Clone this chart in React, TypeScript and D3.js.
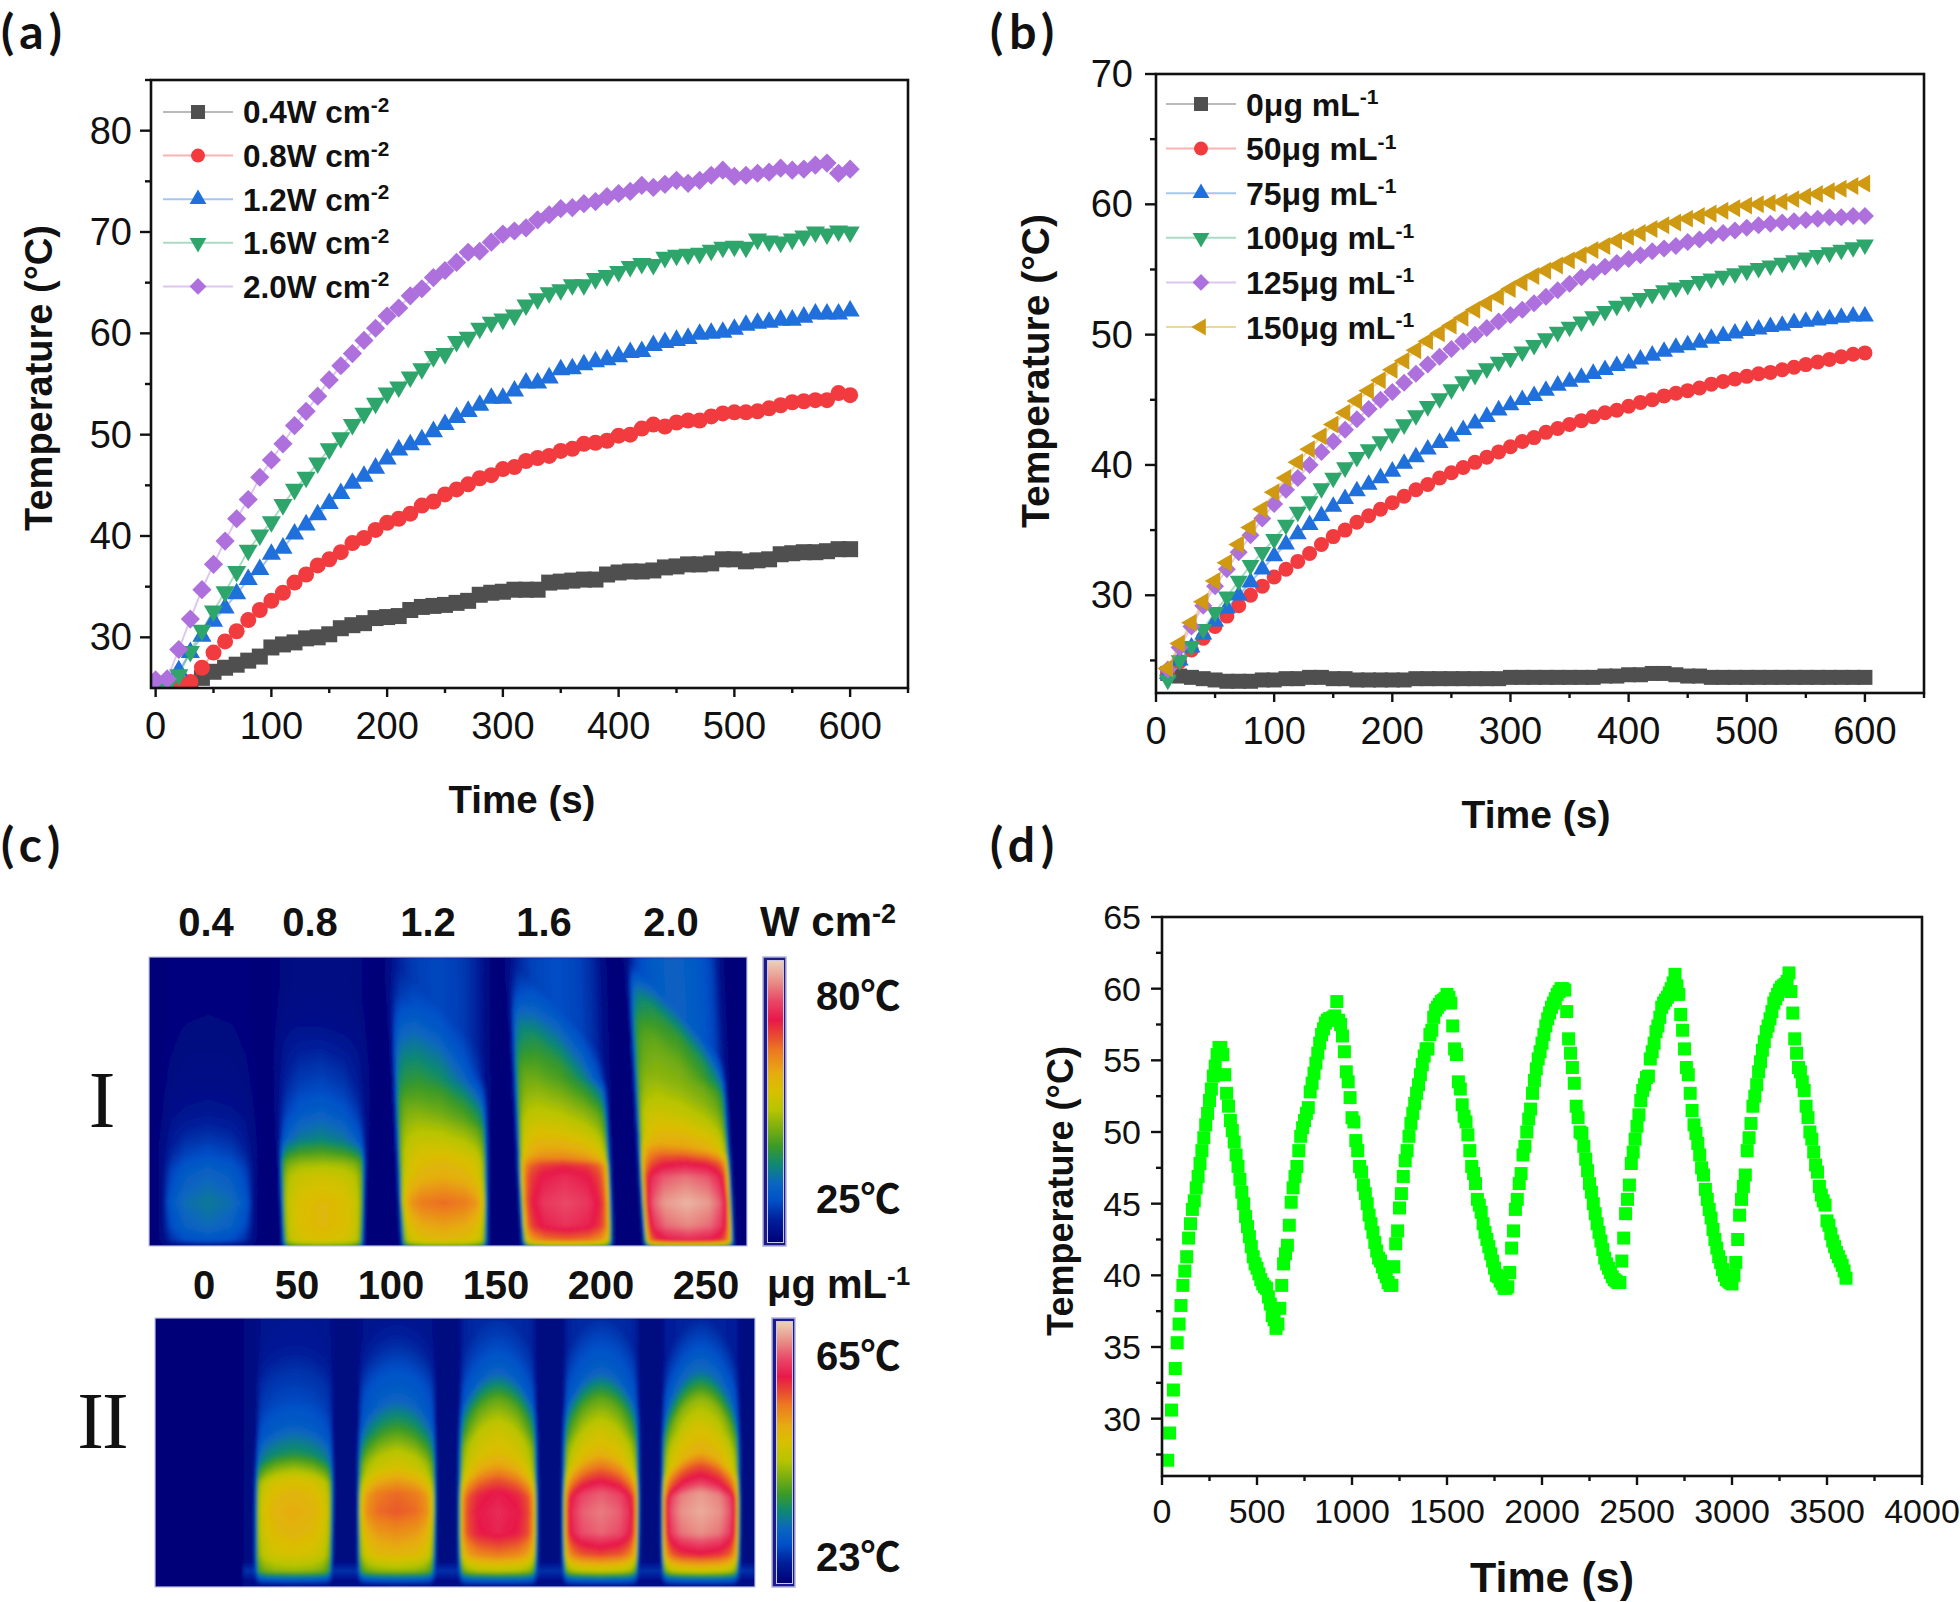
import * as d3 from "d3";
import { useMemo } from "react";

const sansFont = "'Liberation Sans', Arial, sans-serif";
const labelFont = "Lato, 'Open Sans', sans-serif";

// panel (a): temperature every 10 s from 0 to 600 s
const powerTime = d3.range(0, 610, 10);
const power04 = [
  23.8, 24.2, 24.7, 25.3, 26.0, 26.6, 27.0, 27.3, 27.7, 28.1,
  29.0, 29.3, 29.5, 29.9, 30.0, 30.3, 30.9, 31.2, 31.4, 31.9,
  32.0, 32.1, 32.7, 33.0, 33.1, 33.2, 33.4, 33.6, 34.2, 34.4,
  34.5, 34.7, 34.7, 34.7, 35.4, 35.5, 35.6, 35.7, 35.7, 36.2,
  36.4, 36.5, 36.5, 36.6, 36.9, 37.0, 37.2, 37.2, 37.3, 37.7,
  37.7, 37.5, 37.6, 37.7, 38.2, 38.3, 38.4, 38.4, 38.5, 38.7,
  38.7
];
const power08 = [
  24.2, 24.6, 25.2, 25.6, 27.0, 28.5, 29.6, 30.6, 31.7, 32.7,
  33.6, 34.4, 35.4, 36.2, 37.1, 37.7, 38.4, 39.3, 39.8, 40.6,
  41.3, 41.7, 42.2, 43.0, 43.4, 44.1, 44.6, 45.1, 45.7, 46.0,
  46.6, 46.8, 47.4, 47.7, 47.9, 48.4, 48.6, 49.1, 49.2, 49.4,
  49.9, 50.0, 50.6, 51.0, 50.8, 51.2, 51.4, 51.4, 51.8, 52.1,
  52.2, 52.2, 52.3, 52.6, 52.9, 53.2, 53.3, 53.4, 53.4, 54.1,
  53.9
];
const power12 = [
  24.8, 25.2, 26.7, 28.5, 30.1, 31.6, 32.9, 34.3, 35.7, 36.7,
  38.2, 38.8, 40.2, 41.1, 42.1, 43.2, 44.2, 45.2, 45.9, 46.7,
  47.6, 48.5, 49.0, 49.5, 50.3, 51.0, 51.7, 52.3, 52.9, 53.6,
  53.6, 54.3, 55.1, 55.1, 55.6, 56.4, 56.5, 56.9, 57.2, 57.4,
  57.7, 58.1, 58.2, 58.8, 59.1, 59.3, 59.5, 59.9, 60.0, 60.1,
  60.4, 60.8, 61.0, 61.1, 61.3, 61.3, 61.6, 61.9, 61.9, 61.9,
  62.2
];
const power16 = [
  24.8, 25.2, 26.3, 28.6, 30.7, 32.6, 34.5, 36.5, 38.6, 40.1,
  41.4, 43.1, 44.6, 45.8, 47.2, 48.6, 49.7, 51.0, 52.1, 53.1,
  54.1, 54.7, 55.7, 56.5, 57.7, 58.0, 59.2, 59.6, 60.5, 61.1,
  61.4, 61.8, 62.8, 63.4, 64.0, 64.3, 64.8, 64.8, 65.4, 65.7,
  66.1, 66.6, 66.9, 66.8, 67.5, 67.7, 67.8, 67.9, 68.2, 68.5,
  68.6, 68.5, 69.3, 69.1, 69.0, 69.3, 69.6, 70.0, 69.8, 70.1,
  70.0
];
const power20 = [
  25.8, 25.9, 28.8, 31.8, 34.7, 37.2, 39.5, 41.7, 43.6, 45.8,
  47.5, 49.1, 50.9, 52.3, 53.8, 55.4, 56.8, 58.0, 59.3, 60.5,
  61.7, 62.5, 63.7, 64.4, 65.5, 66.2, 67.0, 68.0, 68.1, 69.0,
  69.8, 70.1, 70.4, 71.2, 71.7, 72.3, 72.4, 72.8, 73.0, 73.5,
  73.8, 74.0, 74.6, 74.4, 74.7, 75.1, 74.8, 75.1, 75.6, 76.1,
  75.5, 75.6, 75.8, 75.9, 76.3, 76.1, 76.2, 76.6, 76.8, 75.8,
  76.2
];

// panel (b): temperature every 10 s from 10 to 600 s
const doseTime = d3.range(10, 610, 10);
const dose0 = [
  24.0, 23.8, 23.7, 23.6, 23.5, 23.4, 23.4, 23.4, 23.5, 23.5,
  23.6, 23.6, 23.7, 23.7, 23.6, 23.6, 23.5, 23.5, 23.5, 23.5,
  23.5, 23.6, 23.6, 23.6, 23.6, 23.6, 23.6, 23.6, 23.6, 23.7,
  23.7, 23.7, 23.7, 23.7, 23.7, 23.7, 23.7, 23.8, 23.8, 23.9,
  23.9, 24.0, 24.0, 23.9, 23.8, 23.8, 23.7, 23.7, 23.7, 23.7,
  23.7, 23.7, 23.7, 23.7, 23.7, 23.7, 23.7, 23.7, 23.7, 23.7
];
const dose50 = [
  23.9, 24.9, 25.8, 26.7, 27.6, 28.4, 29.2, 30.0, 30.7, 31.4,
  32.0, 32.6, 33.2, 33.9, 34.5, 35.0, 35.6, 36.1, 36.6, 37.1,
  37.6, 38.1, 38.5, 39.0, 39.4, 39.8, 40.2, 40.6, 41.0, 41.4,
  41.8, 42.1, 42.5, 42.8, 43.1, 43.4, 43.7, 44.0, 44.2, 44.5,
  44.8, 45.0, 45.3, 45.5, 45.7, 45.9, 46.2, 46.4, 46.6, 46.8,
  47.0, 47.1, 47.3, 47.5, 47.7, 47.9, 48.1, 48.3, 48.5, 48.6
];
const dose75 = [
  24.0, 25.0, 26.0, 27.0, 28.0, 29.0, 30.0, 31.0, 32.0, 33.0,
  33.9, 34.7, 35.4, 36.1, 36.8, 37.4, 38.0, 38.5, 39.0, 39.5,
  40.1, 40.6, 41.2, 41.7, 42.2, 42.7, 43.2, 43.7, 44.2, 44.6,
  45.0, 45.3, 45.7, 46.1, 46.4, 46.7, 47.0, 47.3, 47.6, 47.8,
  48.1, 48.4, 48.7, 49.0, 49.2, 49.4, 49.7, 49.9, 50.1, 50.3,
  50.4, 50.6, 50.7, 50.9, 51.0, 51.1, 51.2, 51.3, 51.4, 51.4
];
const dose100 = [
  23.5, 25.0, 26.1, 27.4, 28.7, 29.9, 31.1, 32.3, 33.3, 34.3,
  35.4, 36.4, 37.2, 38.2, 39.0, 39.8, 40.6, 41.2, 41.8, 42.4,
  43.1, 43.8, 44.5, 45.1, 45.8, 46.4, 46.9, 47.4, 47.9, 48.2,
  48.7, 49.2, 49.7, 50.2, 50.6, 51.0, 51.4, 51.8, 52.2, 52.5,
  52.8, 53.1, 53.4, 53.6, 53.8, 54.1, 54.3, 54.5, 54.7, 54.9,
  55.1, 55.3, 55.5, 55.7, 55.9, 56.1, 56.3, 56.5, 56.7, 56.9
];
const dose125 = [
  24.3, 26.0, 27.6, 29.2, 30.7, 32.0, 33.3, 34.6, 35.9, 37.0,
  38.1, 39.0, 40.0, 41.0, 41.8, 42.7, 43.5, 44.3, 45.0, 45.6,
  46.3, 47.0, 47.7, 48.3, 48.9, 49.5, 50.0, 50.5, 51.0, 51.5,
  51.9, 52.4, 52.9, 53.4, 53.9, 54.4, 54.8, 55.2, 55.5, 55.8,
  56.1, 56.4, 56.6, 56.8, 57.1, 57.3, 57.6, 57.8, 58.0, 58.2,
  58.4, 58.5, 58.6, 58.7, 58.8, 58.9, 59.0, 59.0, 59.1, 59.1
];
const dose150 = [
  24.4, 26.3, 27.9, 29.5, 31.1, 32.5, 33.9, 35.2, 36.6, 37.9,
  39.0, 40.2, 41.2, 42.2, 43.1, 44.0, 44.9, 45.7, 46.5, 47.3,
  48.0, 48.8, 49.5, 50.1, 50.7, 51.3, 51.9, 52.4, 52.9, 53.5,
  54.0, 54.5, 54.9, 55.3, 55.7, 56.1, 56.5, 56.8, 57.2, 57.5,
  57.8, 58.1, 58.4, 58.6, 58.9, 59.1, 59.3, 59.5, 59.7, 59.9,
  60.0, 60.1, 60.2, 60.4, 60.6, 60.8, 61.0, 61.2, 61.4, 61.6
];

// panel (d): six heating and cooling cycles, one reading every 10 s from 30 s
const cycleTemp = [
  27.1, 29.0, 30.6, 32.0, 33.5, 35.3, 36.6, 37.9, 39.3, 40.3, 41.3, 42.6, 43.6, 44.6,
  45.2, 46.1, 46.9, 47.8, 48.7, 49.6, 50.5, 51.3, 52.2, 53.0, 53.9, 54.6, 55.4, 55.9,
  55.9, 55.4, 54.0, 52.7, 51.8, 50.8, 50.1, 49.3, 48.4, 47.6, 46.7, 45.8, 45.0, 44.1, 43.4,
  42.7, 42.0, 41.3, 40.8, 40.5, 40.1, 39.7, 39.4, 39.2, 39.1, 38.5, 38.0, 37.2, 36.9, 36.3,
  36.6, 37.7, 39.3, 40.8, 41.5, 42.1, 43.5, 45.1, 46.1, 46.9, 47.6, 48.7, 49.7, 50.3, 50.8, 51.3,
  51.7, 52.8, 53.4, 54.1, 54.8, 55.5, 56.2, 56.8, 57.2, 57.6, 57.8, 57.9, 57.9, 58.0, 58.1, 59.1,
  57.8, 57.5, 56.7, 55.6, 54.2, 53.5, 52.4, 51.0, 50.7, 49.4, 48.7, 47.6, 47.2, 46.3, 45.7,
  45.0, 44.2, 43.6, 43.0, 42.3, 41.7, 41.2, 41.0, 40.6, 40.2, 39.9, 39.5, 39.3, 39.3,
  40.6, 42.2, 43.1, 44.7, 45.7, 46.9, 48.0, 48.7, 49.7, 50.6, 51.3, 52.0, 52.7, 53.3, 54.0,
  54.7, 55.3, 55.8, 55.8, 56.8, 57.1, 58.0, 58.5, 58.7, 58.9, 59.1, 59.2, 59.3, 59.6, 59.4, 59.0,
  57.4, 55.8, 55.4, 53.5, 53.0, 51.9, 51.1, 50.7, 49.8, 48.7, 47.6, 47.1, 46.4, 45.3, 44.9,
  44.4, 43.6, 43.0, 42.5, 42.0, 41.5, 41.0, 40.5, 40.0, 39.9, 39.6, 39.4, 39.1, 39.1, 39.2,
  40.2, 41.9, 43.1, 44.6, 45.3, 46.4, 47.1, 48.4, 49.0, 50.0, 50.9, 51.6, 52.7, 53.6, 54.4,
  55.1, 55.6, 56.2, 56.8, 57.4, 57.9, 58.3, 58.7, 59.0, 59.3, 59.6, 59.8, 60.0, 60.0, 59.9,
  58.4, 56.5, 55.5, 54.5, 53.4, 51.8, 51.0, 50.0, 49.9, 49.0, 48.1, 47.3, 46.4, 45.8, 45.0,
  44.3, 43.6, 43.0, 42.4, 41.8, 41.2, 40.8, 40.5, 40.2, 39.9, 39.7, 39.6, 39.5, 39.5,
  41.0, 42.6, 44.3, 45.3, 46.3, 47.8, 48.6, 49.5, 50.4, 51.2, 52.2, 52.9, 53.3, 53.8, 53.9,
  55.1, 55.6, 56.2, 57.0, 57.4, 58.0, 58.7, 59.0, 59.2, 59.4, 59.7, 60.0, 60.4, 61.0, 60.2, 59.6,
  58.2, 57.1, 55.8, 54.5, 54.0, 52.7, 51.5, 50.5, 49.9, 49.2, 48.4, 47.5, 47.0, 46.0, 45.3,
  44.6, 44.0, 43.2, 42.5, 41.9, 41.3, 40.9, 40.4, 40.0, 39.7, 39.6, 39.5, 39.4,
  40.0, 40.9, 42.5, 44.2, 45.3, 46.2, 47.0, 48.7, 49.6, 50.6, 51.8, 52.5, 53.3, 54.2, 54.9,
  55.7, 56.3, 57.0, 57.4, 57.9, 58.4, 59.0, 59.3, 59.6, 59.9, 60.1, 60.2, 60.3, 60.5, 61.1,
  59.8, 58.3, 56.5, 55.5, 54.5, 54.2, 53.5, 52.9, 51.8, 51.0, 50.0, 49.5, 48.6, 47.7, 47.2,
  46.2, 45.6, 45.2, 44.9, 43.8, 43.5, 42.9, 42.4, 42.0, 41.6, 41.3, 41.0, 40.7, 40.3, 39.8
];
const cycleTime = cycleTemp.map((_, i) => 30 + i * 10);

const powerLabels = ["0.4W cm", "0.8W cm", "1.2W cm", "1.6W cm", "2.0W cm"];
const doseLabels = ["0μg mL", "50μg mL", "75μg mL", "100μg mL", "125μg mL", "150μg mL"];
const seriesColors = ["#4f4f4f", "#f23b3f", "#1f6fdc", "#2ea56b", "#ad70dd", "#cf9a12"];
const seriesMarks = ["square", "circle", "up", "down", "diamond", "left"];

const heatStops = [0.0, 0.08, 0.15, 0.21, 0.28, 0.34, 0.41, 0.47, 0.54, 0.6, 0.68, 0.73, 0.79, 0.86, 0.92, 1.0];
const heatColors = [
  "#000078", "#001f9a", "#0050c8", "#0a66c0", "#108a70", "#3a9a28", "#7fb010", "#b8c400",
  "#d8c000", "#e6ac10", "#ec7a20", "#e84c30", "#e8184a", "#e94a68", "#e88a84", "#ecd3b8"
];

// thermal image I: centre temperature of each tube (colour bar fraction) by height
const rowsOne = [0, 0.09, 0.2, 0.32, 0.44, 0.53, 0.62, 0.68, 0.725, 0.76, 0.85, 0.93, 0.98, 1];
const tubesOne = [
  [0.02, 0.02, 0.02, 0.025, 0.035, 0.06, 0.11, 0.15, 0.19, 0.21, 0.25, 0.22, 0.17, 0.05],
  [0.03, 0.03, 0.045, 0.1, 0.15, 0.2, 0.27, 0.38, 0.47, 0.52, 0.57, 0.57, 0.55, 0.4],
  [0.14, 0.18, 0.26, 0.34, 0.4, 0.46, 0.52, 0.56, 0.58, 0.6, 0.7, 0.62, 0.57, 0.4],
  [0.15, 0.22, 0.33, 0.4, 0.47, 0.53, 0.6, 0.66, 0.78, 0.82, 0.86, 0.83, 0.7, 0.4],
  [0.2, 0.33, 0.4, 0.44, 0.5, 0.56, 0.62, 0.74, 0.82, 0.9, 0.97, 0.92, 0.82, 0.4]
];
// left and right tube walls at the top and bottom of the image
const wallsOne = [
  [11, 108, 14, 104],
  [123, 221, 134, 214],
  [239, 338, 253, 338],
  [359, 454, 374, 463],
  [478, 571, 496, 584]
];
const leanOne = [0, 0.06, 0.34, 0.34, 0.36];
const domeOne = [0, 0, 0, 0, 0];

// thermal image II
const rowsTwo = [0, 0.1, 0.2, 0.3, 0.4, 0.5, 0.55, 0.6, 0.65, 0.72, 0.8, 0.88, 0.94, 0.97, 1];
const tubesTwo = [
  [0.06, 0.07, 0.11, 0.14, 0.19, 0.3, 0.42, 0.54, 0.58, 0.6, 0.58, 0.54, 0.44, 0.2, 0.02],
  [0.06, 0.1, 0.16, 0.2, 0.33, 0.48, 0.53, 0.62, 0.7, 0.72, 0.65, 0.58, 0.44, 0.2, 0.02],
  [0.1, 0.14, 0.2, 0.38, 0.5, 0.56, 0.62, 0.72, 0.8, 0.82, 0.81, 0.68, 0.48, 0.22, 0.03],
  [0.1, 0.15, 0.2, 0.38, 0.5, 0.58, 0.68, 0.78, 0.88, 0.91, 0.89, 0.74, 0.5, 0.22, 0.03],
  [0.09, 0.15, 0.23, 0.43, 0.53, 0.6, 0.73, 0.82, 0.94, 0.96, 0.93, 0.78, 0.52, 0.22, 0.03]
];
const wallsTwo = [
  [101, 180, 100, 177],
  [203, 282, 203, 280],
  [304, 382, 304, 382],
  [408, 485, 408, 483],
  [507, 585, 507, 584]
];
const leanTwo = [0, 0, 0, 0, 0];
const domeTwo = [0.06, 0.1, 0.14, 0.14, 0.18];

const sharpEdge = { at: [0, 0.5, 0.75, 0.88, 0.95, 1, 1.08], level: [1, 0.97, 0.91, 0.82, 0.58, 0.15, 0] };
const softEdge = { at: [0, 0.5, 0.8, 1, 1.15], level: [1, 0.85, 0.55, 0.12, 0] };

const heatColor = d3.scaleLinear<string>().domain(heatStops).range(heatColors).clamp(true);

function clamp01(value: number): number {
  return Math.max(0, Math.min(1, value));
}

function buildField(
  width: number,
  height: number,
  cell: number,
  rows: number[],
  tubes: number[][],
  walls: number[][],
  lean: number[],
  dome: number[],
  softFrom: number,
  floorFrom: number
): { values: number[]; nx: number; ny: number } {
  const nx = Math.ceil(width / cell);
  const ny = Math.ceil(height / cell);
  const profiles = tubes.map((tube) => d3.scaleLinear().domain(rows).range(tube).clamp(true));
  const sharp = d3.scaleLinear().domain(sharpEdge.at).range(sharpEdge.level).clamp(true);
  const soft = d3.scaleLinear().domain(softEdge.at).range(softEdge.level).clamp(true);
  const floor = d3.scaleLinear().domain([0.9, 0.93, 0.95, 0.98]).range([0.02, 0.1, 0.1, 0.03]).clamp(true);
  const values: number[] = [];
  for (let j = 0; j < ny; j++) {
    const f = ((j + 0.5) * cell) / height;
    for (let i = 0; i < nx; i++) {
      const x = (i + 0.5) * cell;
      let v = 0.012;
      if (floorFrom >= 0 && x > floorFrom) v = Math.max(v, floor(f));
      tubes.forEach((_, k) => {
        const [tl, tr, bl, br] = walls[k];
        const left = tl + (bl - tl) * f;
        const right = tr + (br - tr) * f;
        const u = (x - (left + right) / 2) / ((right - left) / 2);
        if (Math.abs(u) > 1.2) return;
        const fade = clamp01((0.72 - f) / 0.3);
        const shift = (lean[k] * (u + 1) * 0.5 + dome[k] * u * u) * fade;
        const p = profiles[k](f - shift);
        const mix = clamp01((p - softFrom) / 0.3);
        const au = Math.abs(u);
        const w = sharp(au) * mix + soft(au) * (1 - mix);
        v = Math.max(v, 0.012 + (p - 0.012) * w);
      });
      values.push(v);
    }
  }
  return { values, nx, ny };
}

function Tick({ x1, y1, x2, y2 }: { x1: number; y1: number; x2: number; y2: number }) {
  return <line x1={x1} y1={y1} x2={x2} y2={y2} stroke="#111" strokeWidth={2.4} />;
}

function Mark({ kind, x, y, size, color }: { kind: string; x: number; y: number; size: number; color: string }) {
  const area = size * size;
  let type: d3.SymbolType = d3.symbolSquare;
  let rotate = 0;
  let symbolSize = area;
  if (kind === "circle") {
    type = d3.symbolCircle;
    symbolSize = (Math.PI * area) / 4;
  } else if (kind === "diamond") {
    rotate = 45;
    symbolSize = area * 0.72;
  } else if (kind === "up" || kind === "down" || kind === "left") {
    type = d3.symbolTriangle;
    symbolSize = area * 0.62;
    rotate = kind === "down" ? 180 : kind === "left" ? -90 : 0;
  }
  const d = d3.symbol().type(type).size(symbolSize)() ?? "";
  return <path d={d} fill={color} transform={`translate(${x},${y}) rotate(${rotate})`} />;
}

interface Frame {
  left: number;
  right: number;
  top: number;
  bottom: number;
}

function Axes({
  frame,
  xScale,
  yScale,
  xMajor,
  xMinor,
  yMajor,
  yMinor,
  tickSize,
  yLabelX,
  xLabelY,
  yTitleX,
  yTitleY,
  xTitleX,
  xTitleY,
  yTitleSize,
  xTitleSize
}: {
  frame: Frame;
  xScale: d3.ScaleLinear<number, number>;
  yScale: d3.ScaleLinear<number, number>;
  xMajor: number[];
  xMinor: number[];
  yMajor: number[];
  yMinor: number[];
  tickSize: number;
  yLabelX: number;
  xLabelY: number;
  yTitleX: number;
  yTitleY: number;
  xTitleX: number;
  xTitleY: number;
  yTitleSize: number;
  xTitleSize: number;
}) {
  return (
    <g fontFamily={sansFont} fill="#111">
      <rect
        x={frame.left}
        y={frame.top}
        width={frame.right - frame.left}
        height={frame.bottom - frame.top}
        fill="none"
        stroke="#111"
        strokeWidth={2.6}
      />
      {xMajor.map((t) => (
        <g key={`xm${t}`}>
          <Tick x1={xScale(t)} x2={xScale(t)} y1={frame.bottom} y2={frame.bottom + 9} />
          <text x={xScale(t)} y={xLabelY} textAnchor="middle" dominantBaseline="central" fontSize={tickSize}>
            {t}
          </text>
        </g>
      ))}
      {xMinor.map((t) => (
        <Tick key={`xn${t}`} x1={xScale(t)} x2={xScale(t)} y1={frame.bottom} y2={frame.bottom + 5} />
      ))}
      {yMajor.map((t) => (
        <g key={`ym${t}`}>
          <Tick x1={frame.left - 11} x2={frame.left} y1={yScale(t)} y2={yScale(t)} />
          <text x={yLabelX} y={yScale(t)} textAnchor="end" dominantBaseline="central" fontSize={tickSize}>
            {t}
          </text>
        </g>
      ))}
      {yMinor.map((t) => (
        <Tick key={`yn${t}`} x1={frame.left - 6} x2={frame.left} y1={yScale(t)} y2={yScale(t)} />
      ))}
      <text
        transform={`translate(${yTitleX},${yTitleY}) rotate(-90)`}
        textAnchor="middle"
        dominantBaseline="central"
        fontSize={yTitleSize}
        fontWeight={700}
      >
        Temperature (°C)
      </text>
      <text
        x={xTitleX}
        y={xTitleY}
        textAnchor="middle"
        dominantBaseline="central"
        fontSize={xTitleSize}
        fontWeight={700}
      >
        Time (s)
      </text>
    </g>
  );
}

function LinePanel({
  id,
  frame,
  xDomain,
  yDomain,
  time,
  series,
  markSize
}: {
  id: string;
  frame: Frame;
  xDomain: [number, number];
  yDomain: [number, number];
  time: number[];
  series: number[][];
  markSize: number;
}) {
  const xScale = d3.scaleLinear().domain(xDomain).range([frame.left, frame.right]);
  const yScale = d3.scaleLinear().domain(yDomain).range([frame.bottom, frame.top]);
  const path = d3
    .line<number>()
    .x((_, i) => xScale(time[i]))
    .y((v) => yScale(v));
  return (
    <g>
      <clipPath id={`clip-${id}`}>
        <rect x={frame.left} y={frame.top} width={frame.right - frame.left} height={frame.bottom - frame.top} />
      </clipPath>
      <g clipPath={`url(#clip-${id})`}>
        {series.map((values, s) => (
          <g key={s}>
            <path d={path(values) ?? ""} fill="none" stroke={seriesColors[s]} strokeOpacity={0.4} strokeWidth={2} />
            {values.map((v, i) => (
              <Mark
                key={i}
                kind={seriesMarks[s]}
                x={xScale(time[i])}
                y={yScale(v)}
                size={markSize}
                color={seriesColors[s]}
              />
            ))}
          </g>
        ))}
      </g>
    </g>
  );
}

function Legend({
  labels,
  exponent,
  lineLeft,
  lineRight,
  textX,
  rowY,
  rowGap,
  fontSize,
  markSize
}: {
  labels: string[];
  exponent: string;
  lineLeft: number;
  lineRight: number;
  textX: number;
  rowY: number;
  rowGap: number;
  fontSize: number;
  markSize: number;
}) {
  return (
    <g fontFamily={sansFont} fontWeight={700} fill="#111">
      {labels.map((label, i) => {
        const y = rowY + i * rowGap;
        return (
          <g key={label}>
            <line x1={lineLeft} x2={lineRight} y1={y} y2={y} stroke={seriesColors[i]} strokeOpacity={0.4} strokeWidth={2} />
            <Mark kind={seriesMarks[i]} x={(lineLeft + lineRight) / 2} y={y} size={markSize} color={seriesColors[i]} />
            <text x={textX} y={y + fontSize * 0.36} fontSize={fontSize}>
              {label}
              <tspan dy={-fontSize * 0.36} fontSize={fontSize * 0.66}>
                {exponent}
              </tspan>
            </text>
          </g>
        );
      })}
    </g>
  );
}

function HeatImage({
  id,
  x,
  y,
  width,
  height,
  rows,
  tubes,
  walls,
  lean,
  dome,
  softFrom,
  floorFrom
}: {
  id: string;
  x: number;
  y: number;
  width: number;
  height: number;
  rows: number[];
  tubes: number[][];
  walls: number[][];
  lean: number[];
  dome: number[];
  softFrom: number;
  floorFrom: number;
}) {
  const cell = 2;
  const shapes = useMemo(() => {
    const { values, nx, ny } = buildField(width, height, cell, rows, tubes, walls, lean, dome, softFrom, floorFrom);
    const thresholds = d3.range(0.015, 1, 0.005);
    const contours = d3.contours().size([nx, ny]).thresholds(thresholds)(values);
    const geo = d3.geoPath(d3.geoIdentity().scale(cell));
    return contours.map((c) => ({ d: geo(c) ?? "", color: heatColor(c.value) }));
  }, [width, height, rows, tubes, walls, lean, dome, softFrom, floorFrom]);
  return (
    <g transform={`translate(${x},${y})`}>
      <clipPath id={`clip-${id}`}>
        <rect width={width} height={height} />
      </clipPath>
      <g clipPath={`url(#clip-${id})`}>
        <rect width={width} height={height} fill={heatColors[0]} />
        <g filter="url(#heat-blur)">
          {shapes.map((s, i) => (
            <path key={i} d={s.d} fill={s.color} />
          ))}
        </g>
      </g>
      <rect width={width} height={height} fill="none" stroke="#c4c4e4" strokeWidth={1.2} />
    </g>
  );
}

function ColorBar({ id, x, y, width, height }: { id: string; x: number; y: number; width: number; height: number }) {
  return (
    <g>
      <linearGradient id={id} x1="0" y1="1" x2="0" y2="0">
        {heatStops.map((stop, i) => (
          <stop key={stop} offset={stop} stopColor={heatColors[i]} />
        ))}
      </linearGradient>
      <rect x={x} y={y} width={width} height={height} fill="#1b1b8e" stroke="#b4b4da" strokeWidth={1.5} />
      <rect x={x + 4.5} y={y + 3.5} width={width - 7} height={height - 7} fill={`url(#${id})`} stroke="#c8c8e6" strokeWidth={1} />
    </g>
  );
}

const panelLabels = [
  { text: "(a)", x: 1, y: 30 },
  { text: "(b)", x: 990, y: 30 },
  { text: "(c)", x: 1, y: 843 },
  { text: "(d)", x: 990, y: 843 }
];
const powerHeader = ["0.4", "0.8", "1.2", "1.6", "2.0"];
const doseHeader = ["0", "50", "100", "150", "200", "250"];
const powerHeaderX = [206, 310, 428, 544, 671];
const doseHeaderX = [204, 297, 391, 496, 601, 706];
const tempLabels = [
  { text: "80℃", y: 996 },
  { text: "25℃", y: 1199 },
  { text: "65℃", y: 1356 },
  { text: "23℃", y: 1557 }
];

export default function App() {
  const frameA = { left: 151, right: 908, top: 80, bottom: 688 };
  const frameB = { left: 1156, right: 1924, top: 74, bottom: 693 };
  const frameD = { left: 1162, right: 1922, top: 917, bottom: 1476 };
  const xA = d3.scaleLinear().domain([-4, 650]).range([frameA.left, frameA.right]);
  const yA = d3.scaleLinear().domain([25, 85]).range([frameA.bottom, frameA.top]);
  const xB = d3.scaleLinear().domain([0, 650]).range([frameB.left, frameB.right]);
  const yB = d3.scaleLinear().domain([22.5, 70]).range([frameB.bottom, frameB.top]);
  const xD = d3.scaleLinear().domain([0, 4000]).range([frameD.left, frameD.right]);
  const yD = d3.scaleLinear().domain([26, 65]).range([frameD.bottom, frameD.top]);

  return (
    <svg
      width={1960}
      height={1602}
      viewBox="0 0 1960 1602"
      style={{ position: "absolute", left: 0, top: 0, background: "#fff" }}
    >
      <filter id="heat-blur" x="-2%" y="-2%" width="104%" height="104%">
        <feGaussianBlur stdDeviation={1.6} />
      </filter>
      <clipPath id="clip-d">
        <rect x={frameD.left} y={frameD.top} width={frameD.right - frameD.left} height={frameD.bottom - frameD.top} />
      </clipPath>

      {panelLabels.map((p) => (
        <text
          key={p.text}
          x={p.x}
          y={p.y}
          dominantBaseline="central"
          fontFamily={labelFont}
          fontWeight={700}
          fontSize={48}
          letterSpacing={6}
          fill="#111"
        >
          {p.text}
        </text>
      ))}

      <LinePanel
        id="a"
        frame={frameA}
        xDomain={[-4, 650]}
        yDomain={[25, 85]}
        time={powerTime}
        series={[power04, power08, power12, power16, power20]}
        markSize={16}
      />
      <Axes
        frame={frameA}
        xScale={xA}
        yScale={yA}
        xMajor={d3.range(0, 700, 100)}
        xMinor={d3.range(50, 700, 100)}
        yMajor={d3.range(30, 90, 10)}
        yMinor={d3.range(35, 90, 10)}
        tickSize={38}
        yLabelX={132}
        xLabelY={726}
        yTitleX={39}
        yTitleY={378}
        xTitleX={522}
        xTitleY={799}
        yTitleSize={38}
        xTitleSize={38.5}
      />
      <Legend
        labels={powerLabels}
        exponent="-2"
        lineLeft={163}
        lineRight={233}
        textX={243}
        rowY={112}
        rowGap={43.6}
        fontSize={31.5}
        markSize={14}
      />

      <LinePanel
        id="b"
        frame={frameB}
        xDomain={[0, 650]}
        yDomain={[22.5, 70]}
        time={doseTime}
        series={[dose0, dose50, dose75, dose100, dose125, dose150]}
        markSize={15}
      />
      <Axes
        frame={frameB}
        xScale={xB}
        yScale={yB}
        xMajor={d3.range(0, 700, 100)}
        xMinor={d3.range(50, 700, 100)}
        yMajor={d3.range(30, 80, 10)}
        yMinor={d3.range(25, 70, 10)}
        tickSize={38}
        yLabelX={1133}
        xLabelY={731}
        yTitleX={1035}
        yTitleY={371}
        xTitleX={1536}
        xTitleY={814}
        yTitleSize={39}
        xTitleSize={39}
      />
      <Legend
        labels={doseLabels}
        exponent="-1"
        lineLeft={1166}
        lineRight={1236}
        textX={1246}
        rowY={104}
        rowGap={44.6}
        fontSize={32}
        markSize={14}
      />

      <g clipPath="url(#clip-d)">
        {cycleTemp.map((v, i) => (
          <Mark key={i} kind="square" x={xD(cycleTime[i])} y={yD(v)} size={13} color="#00ff00" />
        ))}
      </g>
      <Axes
        frame={frameD}
        xScale={xD}
        yScale={yD}
        xMajor={d3.range(0, 4500, 500)}
        xMinor={d3.range(250, 4000, 500)}
        yMajor={d3.range(30, 70, 5)}
        yMinor={d3.range(27.5, 65, 5)}
        tickSize={34}
        yLabelX={1141}
        xLabelY={1511}
        yTitleX={1060}
        yTitleY={1191}
        xTitleX={1552}
        xTitleY={1577}
        yTitleSize={36}
        xTitleSize={43}
      />

      <g fontFamily={sansFont} fontWeight={700} fontSize={40} fill="#111">
        {powerHeader.map((t, i) => (
          <text key={t} x={powerHeaderX[i]} y={922} textAnchor="middle" dominantBaseline="central">
            {t}
          </text>
        ))}
        <text x={760} y={936} fontSize={42}>
          W cm<tspan dy={-13} fontSize={27}>-2</tspan>
        </text>
        {doseHeader.map((t, i) => (
          <text key={t} x={doseHeaderX[i]} y={1285} textAnchor="middle" dominantBaseline="central">
            {t}
          </text>
        ))}
        <text x={767} y={1298} fontSize={40}>
          μg mL<tspan dy={-13} fontSize={26}>-1</tspan>
        </text>
        {tempLabels.map((t) => (
          <text
            key={t.text}
            x={816}
            y={t.y}
            dominantBaseline="central"
            fontFamily={`${sansFont}, 'Noto Sans CJK SC'`}
          >
            {t.text}
          </text>
        ))}
      </g>

      <g fontFamily="'Liberation Serif', serif" fontSize={80} fill="#111" textAnchor="middle">
        <text x={102} y={1100} dominantBaseline="central">I</text>
        <text x={102} y={1421} dominantBaseline="central" letterSpacing={-2}>II</text>
      </g>

      <HeatImage
        id="one"
        x={149}
        y={957}
        width={598}
        height={289}
        rows={rowsOne}
        tubes={tubesOne}
        walls={wallsOne}
        lean={leanOne}
        dome={domeOne}
        softFrom={0.12}
        floorFrom={-1}
      />
      <ColorBar id="bar-one" x={763} y={957} width={23} height={289} />

      <HeatImage
        id="two"
        x={155}
        y={1318}
        width={600}
        height={269}
        rows={rowsTwo}
        tubes={tubesTwo}
        walls={wallsTwo}
        lean={leanTwo}
        dome={domeTwo}
        softFrom={-0.25}
        floorFrom={88}
      />
      <ColorBar id="bar-two" x={772} y={1318} width={23} height={269} />
    </svg>
  );
}
